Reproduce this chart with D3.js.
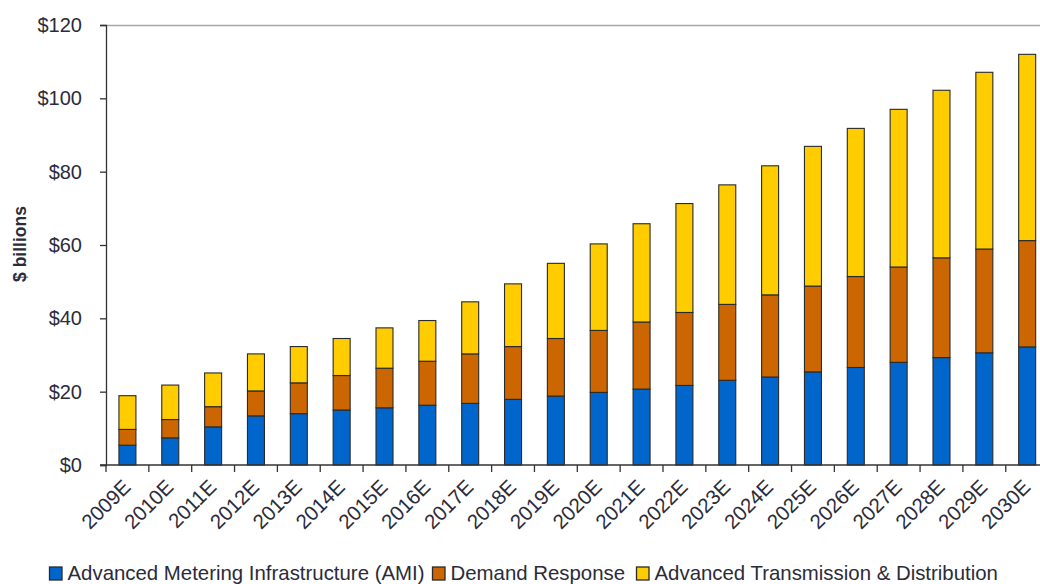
<!DOCTYPE html>
<html><head><meta charset="utf-8">
<script src="https://cdn.jsdelivr.net/npm/d3@7"></script>
<style>html,body{margin:0;padding:0;background:#fff;}svg{display:block;font-family:"Liberation Sans",Arial,sans-serif;}</style>
</head><body>
<svg id="c" width="1040" height="584"></svg>
<script>
const years = ["2009E","2010E","2011E","2012E","2013E","2014E","2015E","2016E","2017E","2018E","2019E","2020E","2021E","2022E","2023E","2024E","2025E","2026E","2027E","2028E","2029E","2030E"];
const seriesNames = ["Advanced Metering Infrastructure (AMI)","Demand Response","Advanced Transmission & Distribution"];
const ami = [5.4,7.4,10.4,13.4,14.0,15.0,15.6,16.3,16.8,17.9,18.8,19.8,20.7,21.7,23.1,24.0,25.4,26.6,28.0,29.3,30.6,32.2];
const demandResponse = [4.3,5.0,5.5,6.8,8.4,9.4,10.8,12.0,13.5,14.4,15.7,16.9,18.3,19.9,20.7,22.4,23.4,24.8,26.0,27.2,28.3,29.0];
const transDist = [9.2,9.4,9.2,10.1,9.9,10.1,11.0,11.1,14.2,17.1,20.5,23.6,26.8,29.7,32.6,35.2,38.1,40.4,43.0,45.7,48.2,50.8];
const yTicks = [0,20,40,60,80,100,120];
const colors = ["#0066CC","#CC6600","#FFCC00"];

const svg = d3.select("#c");
const L = 106, R = 1048.6, T = 25, B = 465;
const x = d3.scaleBand().domain(years).range([L, R]).paddingInner(0.58).paddingOuter(0.29);
const y = d3.scaleLinear().domain([0,120]).range([B, T]);

const table = years.map((yr,i)=>({year:yr, s0:ami[i], s1:demandResponse[i], s2:transDist[i]}));
const stack = d3.stack().keys(["s0","s1","s2"])(table);

// top border line
svg.append("line").attr("x1",L).attr("x2",1040).attr("y1",T+0.5).attr("y2",T+0.5).attr("stroke","#a8a8a8").attr("stroke-width",1.5);

// bars
stack.forEach((layer,k)=>{
  svg.append("g").selectAll("rect").data(layer).join("rect")
    .attr("x",d=>x(d.data.year)+0.5)
    .attr("y",d=>y(d[1]))
    .attr("width",x.bandwidth()-1)
    .attr("height",d=>y(d[0])-y(d[1]))
    .attr("fill",colors[k])
    .attr("stroke","#2a2a2a").attr("stroke-width",1.1);
});

// y axis
const yAxis = d3.axisLeft(y).tickValues(yTicks).tickFormat(d=>"$"+d).tickSize(6).tickPadding(18);
const gy = svg.append("g").attr("transform",`translate(${L},0)`).call(yAxis);
gy.select(".domain").attr("stroke","#333").attr("stroke-width",1.3);
gy.selectAll(".tick line").attr("stroke","#333").attr("stroke-width",1.3);
gy.selectAll("text").attr("font-size",20).attr("fill","#2b2b3a").attr("font-family","Liberation Sans, Arial, sans-serif");

// x axis baseline
svg.append("line").attr("x1",L-6).attr("x2",1040).attr("y1",B).attr("y2",B).attr("stroke","#333").attr("stroke-width",1.3);
// boundary ticks
const step = x.step();
const bounds = years.map(yr=>x(yr) - (step - x.bandwidth())/2);
svg.append("g").selectAll("line").data(bounds).join("line")
  .attr("x1",d=>d).attr("x2",d=>d).attr("y1",B).attr("y2",B+7)
  .attr("stroke","#333").attr("stroke-width",1.3);

// x labels
svg.append("g").selectAll("text").data(years).join("text")
  .attr("transform",d=>`translate(${x(d)+x.bandwidth()/2-6},${B+13}) rotate(-45)`)
  .attr("text-anchor","end").attr("dy","0.72em")
  .attr("font-size",20.5).attr("fill","#2b2b3a")
  .text(d=>d);

// y title
svg.append("text").attr("transform","translate(26,244) rotate(-90)")
  .attr("text-anchor","middle").attr("font-size",17.5).attr("font-weight","bold").attr("fill","#2b2b3a")
  .text("$ billions");

// legend
const legX = [49, 432, 636];
const lg = svg.append("g");
seriesNames.forEach((n,i)=>{
  lg.append("rect").attr("x",legX[i]+0.5).attr("y",567).attr("width",12.5).attr("height",13)
    .attr("fill",colors[i]).attr("stroke","#2a2a2a").attr("stroke-width",1.3);
  lg.append("text").attr("x",legX[i]+18.5).attr("y",579.5).attr("font-size",20.4).attr("fill","#2b2b3a").text(n);
});
</script>
</body></html>
